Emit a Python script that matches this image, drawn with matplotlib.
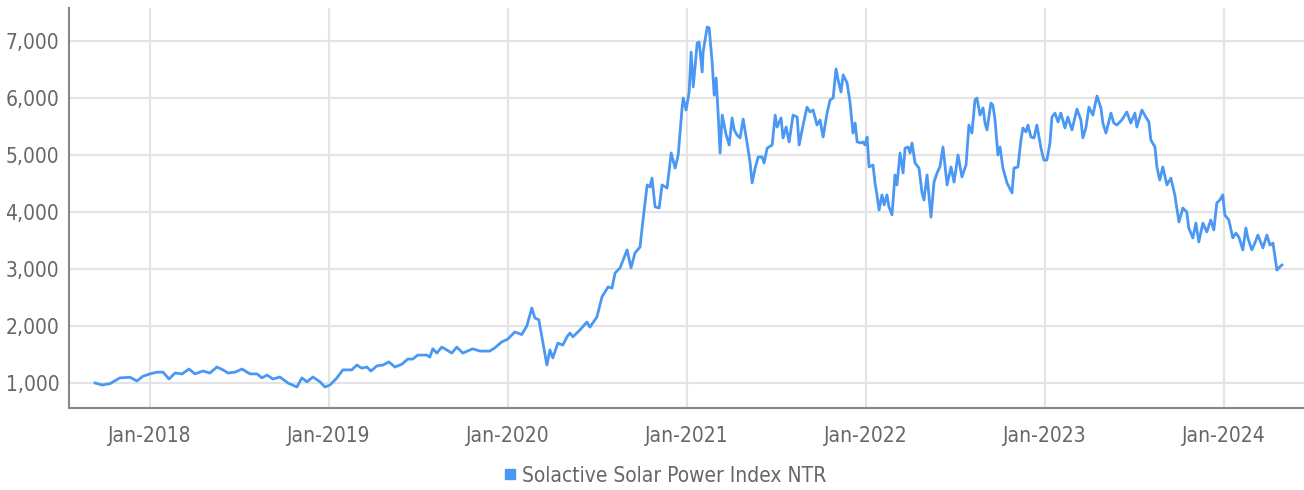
import pandas as pd
import matplotlib
matplotlib.use('Agg')
import matplotlib.pyplot as plt
import matplotlib.dates as mdates
from matplotlib.lines import Line2D
from matplotlib.ticker import FuncFormatter

plt.rcParams['font.family'] = ['DejaVu Sans']
plt.rcParams['font.stretch'] = 'condensed'

# index level (time as decimal year)
years = [
    2017.693, 2017.732, 2017.777, 2017.832, 2017.888, 2017.927, 2017.961, 2018.000,
    2018.039, 2018.073, 2018.106, 2018.140, 2018.179, 2018.218, 2018.251, 2018.296,
    2018.335, 2018.374, 2018.408, 2018.436, 2018.475, 2018.514, 2018.559, 2018.598,
    2018.626, 2018.654, 2018.687, 2018.726, 2018.771, 2018.821, 2018.849, 2018.877,
    2018.911, 2018.950, 2018.978, 2019.006, 2019.045, 2019.078, 2019.128, 2019.156,
    2019.184, 2019.212, 2019.235, 2019.268, 2019.302, 2019.335, 2019.369, 2019.408,
    2019.441, 2019.469, 2019.497, 2019.547, 2019.564, 2019.581, 2019.603, 2019.631,
    2019.659, 2019.687, 2019.715, 2019.749, 2019.804, 2019.844, 2019.899, 2019.927,
    2019.966, 2020.000, 2020.039, 2020.078, 2020.106, 2020.134, 2020.151, 2020.173,
    2020.196, 2020.218, 2020.235, 2020.251, 2020.279, 2020.307, 2020.330, 2020.346,
    2020.363, 2020.402, 2020.441, 2020.458, 2020.497, 2020.525, 2020.559, 2020.581,
    2020.598, 2020.626, 2020.665, 2020.687, 2020.709, 2020.737, 2020.754, 2020.777,
    2020.793, 2020.804, 2020.821, 2020.844, 2020.860, 2020.888, 2020.911, 2020.933,
    2020.950, 2020.972, 2020.978, 2020.994, 2021.011, 2021.022, 2021.034, 2021.056,
    2021.067, 2021.084, 2021.089, 2021.112, 2021.123, 2021.140, 2021.151, 2021.162,
    2021.173, 2021.184, 2021.196, 2021.218, 2021.235, 2021.251, 2021.263, 2021.279,
    2021.296, 2021.313, 2021.335, 2021.352, 2021.363, 2021.380, 2021.397, 2021.419,
    2021.430, 2021.447, 2021.475, 2021.492, 2021.503, 2021.525, 2021.536, 2021.553,
    2021.570, 2021.592, 2021.615, 2021.626, 2021.648, 2021.670, 2021.687, 2021.704,
    2021.726, 2021.743, 2021.760, 2021.782, 2021.799, 2021.816, 2021.832, 2021.844,
    2021.860, 2021.872, 2021.894, 2021.911, 2021.927, 2021.939, 2021.950, 2021.972,
    2021.983, 2021.994, 2022.006, 2022.017, 2022.039, 2022.050, 2022.061, 2022.073,
    2022.089, 2022.101, 2022.117, 2022.128, 2022.145, 2022.162, 2022.173, 2022.190,
    2022.207, 2022.218, 2022.235, 2022.246, 2022.257, 2022.274, 2022.296, 2022.313,
    2022.324, 2022.341, 2022.363, 2022.380, 2022.397, 2022.413, 2022.430, 2022.453,
    2022.475, 2022.492, 2022.514, 2022.536, 2022.559, 2022.575, 2022.592, 2022.609,
    2022.620, 2022.637, 2022.654, 2022.665, 2022.676, 2022.698, 2022.709, 2022.721,
    2022.737, 2022.749, 2022.765, 2022.788, 2022.816, 2022.827, 2022.849, 2022.866,
    2022.877, 2022.894, 2022.905, 2022.922, 2022.939, 2022.955, 2022.978, 2022.994,
    2023.011, 2023.028, 2023.039, 2023.056, 2023.073, 2023.089, 2023.112, 2023.128,
    2023.151, 2023.179, 2023.201, 2023.212, 2023.229, 2023.246, 2023.268, 2023.291,
    2023.313, 2023.324, 2023.341, 2023.369, 2023.385, 2023.402, 2023.430, 2023.458,
    2023.480, 2023.503, 2023.514, 2023.542, 2023.564, 2023.581, 2023.592, 2023.615,
    2023.626, 2023.642, 2023.659, 2023.682, 2023.704, 2023.726, 2023.749, 2023.771,
    2023.793, 2023.804, 2023.827, 2023.844, 2023.860, 2023.883, 2023.905, 2023.927,
    2023.944, 2023.961, 2023.978, 2023.994, 2024.006, 2024.028, 2024.050, 2024.067,
    2024.084, 2024.106, 2024.123, 2024.134, 2024.156, 2024.173, 2024.190, 2024.218,
    2024.240, 2024.257, 2024.274, 2024.296, 2024.307, 2024.324,
]
values = [
    1000, 965, 990, 1090, 1100, 1035, 1120, 1160,
    1190, 1190, 1070, 1175, 1160, 1245, 1160, 1210,
    1175, 1280, 1230, 1175, 1190, 1245, 1160, 1160,
    1090, 1140, 1070, 1105, 1000, 930, 1090, 1020,
    1105, 1020, 930, 965, 1090, 1230, 1230, 1315,
    1260, 1280, 1210, 1300, 1315, 1370, 1280, 1330,
    1420, 1420, 1490, 1490, 1455, 1600, 1525, 1630,
    1580, 1525, 1630, 1525, 1600, 1560, 1560, 1615,
    1720, 1770, 1895, 1850, 2000, 2315, 2140, 2110,
    1700, 1315, 1580, 1440, 1700, 1665, 1810, 1875,
    1810, 1930, 2070, 1980, 2160, 2510, 2685, 2665,
    2930, 3020, 3335, 3020, 3280, 3385, 3860, 4475,
    4440, 4595, 4090, 4070, 4475, 4420, 5035, 4770,
    5000, 5840, 6000, 5790, 6105, 6805, 6195, 6965,
    6980, 6455, 6805, 7245, 7230, 6615, 6050, 6350,
    5735, 5035, 5700, 5350, 5175, 5650, 5440, 5350,
    5300, 5630, 5210, 4860, 4510, 4770, 4965, 4965,
    4860, 5120, 5175, 5700, 5490, 5650, 5300, 5490,
    5230, 5700, 5665, 5175, 5525, 5840, 5755, 5790,
    5525, 5615, 5315, 5735, 5965, 6000, 6510, 6315,
    6105, 6405, 6265, 5910, 5385, 5560, 5230, 5210,
    5230, 5175, 5315, 4790, 4825, 4510, 4300, 4035,
    4300, 4125, 4300, 4090, 3950, 4650, 4475, 5035,
    4685, 5120, 5140, 5035, 5210, 4860, 4770, 4335,
    4210, 4650, 3910, 4525, 4685, 4790, 5140, 4475,
    4790, 4525, 5000, 4615, 4825, 5525, 5385, 5965,
    6000, 5700, 5825, 5560, 5440, 5910, 5875, 5615,
    5000, 5140, 4770, 4510, 4335, 4770, 4790, 5265,
    5475, 5405, 5525, 5315, 5300, 5525, 5120, 4910,
    4910, 5210, 5665, 5735, 5580, 5735, 5475, 5665,
    5440, 5805, 5615, 5300, 5475, 5840, 5700, 6035,
    5825, 5560, 5385, 5735, 5560, 5525, 5615, 5755,
    5560, 5735, 5490, 5790, 5665, 5580, 5265, 5140,
    4790, 4560, 4790, 4475, 4595, 4300, 3825, 4070,
    4000, 3720, 3545, 3805, 3475, 3805, 3650, 3860,
    3685, 4160, 4210, 4300, 3945, 3860, 3545, 3630,
    3560, 3335, 3720, 3545, 3335, 3455, 3595, 3370,
    3595, 3420, 3455, 2980, 3020, 3070,
]
series_name = 'Solactive Solar Power Index NTR'
y_ticks = [1000, 2000, 3000, 4000, 5000, 6000, 7000]
x_tick_years = [2018, 2019, 2020, 2021, 2022, 2023, 2024]


def to_date(y):
    yr = int(y)
    start = pd.Timestamp(year=yr, month=1, day=1)
    end = pd.Timestamp(year=yr + 1, month=1, day=1)
    return start + (end - start) * (y - yr)


dates = [to_date(y) for y in years]

line_color = '#4a98f4'
text_color = '#666666'
grid_color = '#e4e4e4'

fig = plt.figure(figsize=(13.04, 4.9), dpi=100)
ax = fig.add_axes([0.0529, 0.1673, 0.9471, 0.8164])

ax.plot(dates, values, color=line_color, linewidth=2.0, solid_joinstyle='round', zorder=3)

ax.set_xlim(to_date(2017.547), to_date(2024.447))
ax.set_ylim(561, 7579)

ax.set_yticks(y_ticks)
ax.yaxis.set_major_formatter(FuncFormatter(lambda v, p: f'{int(v):,}'))
ax.set_xticks([pd.Timestamp(year=y, month=1, day=1) for y in x_tick_years])
ax.xaxis.set_major_formatter(mdates.DateFormatter('%b-%Y'))

ax.grid(True, color=grid_color, linewidth=1.6, zorder=0)
ax.tick_params(axis='both', length=0, labelsize=15, colors=text_color)
ax.tick_params(axis='y', pad=7)
ax.tick_params(axis='x', pad=13)

for side in ['top', 'right']:
    ax.spines[side].set_visible(False)
for side in ['left', 'bottom']:
    ax.spines[side].set_color('#888888')
    ax.spines[side].set_linewidth(1.5)

handle = Line2D([], [], color=line_color, marker='s', linestyle='none', markersize=7)
fig.legend([handle], [series_name], loc='center', bbox_to_anchor=(0.51, 0.029),
           frameon=False, fontsize=15, labelcolor=text_color,
           handlelength=0.6, handletextpad=0.3, borderpad=0)

fig.savefig('out.png', dpi=100)
